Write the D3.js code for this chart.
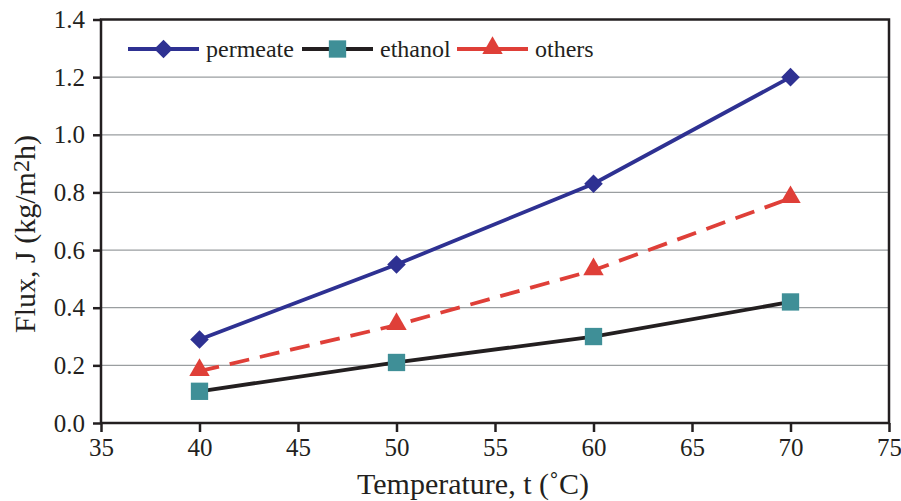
<!DOCTYPE html>
<html>
<head>
<meta charset="utf-8">
<script src="https://cdn.jsdelivr.net/npm/d3@7"></script>
<style>
  body { margin: 0; background: #fff; }
  text { font-family: "Liberation Serif", "Times New Roman", serif; fill: #231f20; }
</style>
</head>
<body>
<svg id="chart" width="901" height="501"></svg>
<script>
// data
const temps = [40, 50, 60, 70];
const permeate = [0.29, 0.55, 0.83, 1.20];
const ethanol = [0.11, 0.21, 0.30, 0.42];
const others = [0.18, 0.34, 0.53, 0.78];
const xTicks = [35, 40, 45, 50, 55, 60, 65, 70, 75];
const yTicks = [0, 0.2, 0.4, 0.6, 0.8, 1.0, 1.2, 1.4];

const margin = { left: 101, top: 19.5, right: 12, bottom: 78 };
const width = 901, height = 501;

const svg = d3.select('#chart');

const x = d3.scaleLinear().domain([35, 75]).range([margin.left, width - margin.right]);
const y = d3.scaleLinear().domain([0, 1.4]).range([height - margin.bottom, margin.top]);

// gridlines
svg.append('g')
  .selectAll('line')
  .data(yTicks.filter(d => d > 0 && d < 1.4))
  .enter().append('line')
    .attr('x1', x(35)).attr('x2', x(75))
    .attr('y1', d => y(d)).attr('y2', d => y(d))
    .attr('stroke', '#9a9ea0')
    .attr('stroke-width', 1.2);

// frame
svg.append('rect')
  .attr('x', x(35)).attr('y', y(1.4))
  .attr('width', x(75) - x(35)).attr('height', y(0) - y(1.4))
  .attr('fill', 'none')
  .attr('stroke', '#231f20')
  .attr('stroke-width', 2.5);

// axes
let xAxis = svg.append('g')
  .attr('transform', 'translate(0,' + y(0) + ')')
  .call(d3.axisBottom(x).tickValues(xTicks).tickSize(9).tickPadding(6).tickFormat(d3.format('d')));
let yAxis = svg.append('g')
  .attr('transform', 'translate(' + x(35) + ',0)')
  .call(d3.axisLeft(y).tickValues(yTicks).tickSize(8).tickPadding(8).tickFormat(d3.format('.1f')));

[xAxis, yAxis].forEach(a => {
  a.select('.domain').remove();
  a.selectAll('line').attr('stroke', '#231f20').attr('stroke-width', 2.5);
  a.selectAll('text')
    .attr('font-family', '"Liberation Serif", "Times New Roman", serif')
    .attr('font-size', 25)
    .attr('fill', '#231f20');
});

// axis titles
svg.append('text')
  .attr('x', 473).attr('y', 494)
  .attr('text-anchor', 'middle')
  .attr('font-size', 30)
  .text('Temperature, t (\u02DAC)');

let yt = svg.append('text')
  .attr('transform', 'translate(35,234) rotate(-90)')
  .attr('text-anchor', 'middle')
  .attr('font-size', 30);
yt.append('tspan').text('Flux, J (kg/m');
yt.append('tspan').attr('font-size', 24).attr('dy', -6).text('2');
yt.append('tspan').attr('dy', 6).text('h)');

// series
const series = [
  { name: 'permeate', values: permeate, color: '#2e3192', dash: null, marker: 'diamond' },
  { name: 'others', values: others, color: '#df3f38', dash: '20,11', marker: 'triangle' },
  { name: 'ethanol', values: ethanol, color: '#231f20', dash: null, marker: 'square', fill: '#3f8f97' }
];

const symbolGen = {
  diamond: d3.symbol().type(d3.symbolDiamond2).size(220),
  square: d3.symbol().type(d3.symbolSquare).size(300),
  triangle: d3.symbol().type(d3.symbolTriangle).size(180)
};

let lineGen = d3.line().x(d => x(d.t)).y(d => y(d.v));

series.forEach(s => {
  let pts = temps.map((t, i) => ({ t: t, v: s.values[i] }));
  let g = svg.append('g');
  g.append('path')
    .datum(pts)
    .attr('d', lineGen)
    .attr('fill', 'none')
    .attr('stroke', s.color)
    .attr('stroke-width', 3.8)
    .attr('stroke-dasharray', s.dash);
  g.selectAll('path.mk')
    .data(pts)
    .enter().append('path')
      .attr('class', 'mk')
      .attr('transform', d => 'translate(' + x(d.t) + ',' + (y(d.v) + (s.marker === 'triangle' ? -1 : 0)) + ')')
      .attr('d', symbolGen[s.marker])
      .attr('fill', s.fill || s.color);
});

// legend
const legendItems = [
  { name: 'permeate', x0: 128, s: series[0] },
  { name: 'ethanol', x0: 302, s: series[2] },
  { name: 'others', x0: 457, s: series[1] }
];
const ly = 49;
legendItems.forEach(it => {
  let g = svg.append('g');
  g.append('line')
    .attr('x1', it.x0).attr('x2', it.x0 + 71)
    .attr('y1', ly).attr('y2', ly)
    .attr('stroke', it.s.color)
    .attr('stroke-width', 3.8);
  g.append('path')
    .attr('transform', 'translate(' + (it.x0 + 35.5) + ',' + (ly + (it.s.marker === 'triangle' ? -1 : 0)) + ')')
    .attr('d', symbolGen[it.s.marker])
    .attr('fill', it.s.fill || it.s.color);
  g.append('text')
    .attr('x', it.x0 + 78).attr('y', ly + 8)
    .attr('font-size', 24)
    .text(it.name);
});
</script>
</body>
</html>
